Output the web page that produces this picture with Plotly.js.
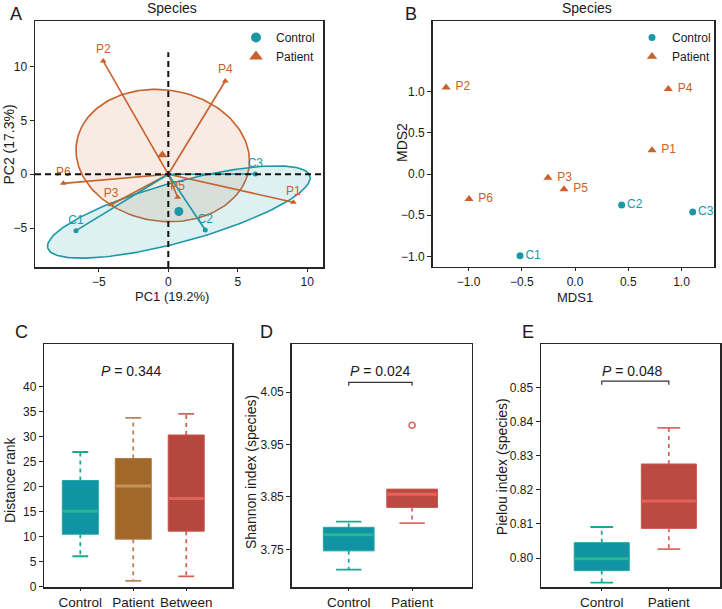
<!DOCTYPE html>
<html><head><meta charset="utf-8">
<script src="https://cdn.plot.ly/plotly-3.0.1.min.js"></script>
<style>body{margin:0;background:#fff}#chart{width:722px;height:609px}</style>
</head><body><div id="chart"></div>
<script>
// ---------- Panel A: PCA (species) ----------
const pcaControlLabels = ['C1', 'C2', 'C3'];
const pcaControlPC1 = [-6.64, 2.66, 6.26];
const pcaControlPC2 = [-5.23, -5.17, 0.03];
const pcaPatientLabels = ['P1', 'P2', 'P3', 'P4', 'P5', 'P6'];
const pcaPatientPC1 = [9.0, -4.68, -4.12, 4.1, 0.67, -7.55];
const pcaPatientPC2 = [-2.6, 10.5, -2.82, 8.65, -2.13, -0.84];
const spiderCenter = [0, 0];
// ellipse centre and shape matrix [sxx, sxy, syy]
const ellipseControlCenter = [0.76, -3.5];
const ellipseControlShape = [89.3, 29.96, 18.3];
const ellipsePatientCenter = [-0.4, 1.74];
const ellipsePatientShape = [38.9, -3.2, 37.7];

// ---------- Panel B: NMDS (species) ----------
const mdsControlLabels = ['C1', 'C2', 'C3'];
const mdsControlX = [-0.516, 0.438, 1.105];
const mdsControlY = [-0.99, -0.376, -0.46];
const mdsPatientLabels = ['P1', 'P2', 'P3', 'P4', 'P5', 'P6'];
const mdsPatientX = [0.723, -1.21, -0.254, 0.876, -0.103, -0.995];
const mdsPatientY = [0.287, 1.05, -0.045, 1.03, -0.185, -0.303];

// ---------- Panel C: distance rank ----------
const distGroups = ['Control', 'Patient', 'Between'];
const distLow = [6.1, 1.2, 2.1];
const distQ1 = [10.5, 9.5, 11.1];
const distMed = [15.1, 20.1, 17.6];
const distQ3 = [21.2, 25.6, 30.3];
const distHigh = [26.9, 33.7, 34.5];
const distP = '0.344';

// ---------- Panel D: Shannon ----------
const alphaGroups = ['Control', 'Patient'];
const shanLow = [3.711, 3.800];
const shanQ1 = [3.747, 3.830];
const shanMed = [3.778, 3.855];
const shanQ3 = [3.792, 3.865];
const shanHigh = [3.803, 3.865];
const shanOutlierGroup = [1];
const shanOutlier = [3.987];
const shanP = '0.024';

// ---------- Panel E: Pielou ----------
const pielLow = [0.7928, 0.8026];
const pielQ1 = [0.7963, 0.8087];
const pielMed = [0.7998, 0.8167];
const pielQ3 = [0.8045, 0.8276];
const pielHigh = [0.8091, 0.8382];
const pielP = '0.048';

// ---------- styling ----------
const FONT = 'Liberation Sans, Arial, sans-serif';
const INK = '#1a1a1a';
const TEAL = '#1b98a6', ORANGE = '#c8612b';
const W = 722, H = 609;
const boxStyles = {
  Control: {fill: '#0e94a3', line: '#22a6a0', med: '#2ab894', whisk: '#1aa98f'},
  Patient: {fill: '#a2682a', line: '#b07a48', med: '#c6905f', whisk: '#b98356'},
  Between: {fill: '#b5473f', line: '#c4544b', med: '#e2635a', whisk: '#d65f58'},
  PatientAlpha: {fill: '#bb4a42', line: '#c9554c', med: '#e4645a', whisk: '#d86a63'}
};

function ellipse(center, shape, n) {
  const l11 = Math.sqrt(shape[0]), l21 = shape[1] / l11, l22 = Math.sqrt(shape[2] - l21 * l21);
  const xs = [], ys = [];
  for (let k = 0; k <= n; k++) {
    const t = 2 * Math.PI * k / n;
    xs.push(center[0] + l11 * Math.cos(t));
    ys.push(center[1] + l21 * Math.cos(t) + l22 * Math.sin(t));
  }
  return {xs, ys};
}
function spider(xs, ys) {
  const sx = [], sy = [];
  xs.forEach((x, i) => { sx.push(spiderCenter[0], x, null); sy.push(spiderCenter[1], ys[i], null); });
  return {sx, sy};
}
const mean = a => a.reduce((s, v) => s + v, 0) / a.length;

const traces = [];
// A ellipses
const eC = ellipse(ellipseControlCenter, ellipseControlShape, 160);
const eP = ellipse(ellipsePatientCenter, ellipsePatientShape, 160);
traces.push({type: 'scatter', mode: 'lines', x: eP.xs, y: eP.ys, fill: 'toself', fillcolor: 'rgba(200,97,43,0.13)', line: {color: ORANGE, width: 1.6}, xaxis: 'x', yaxis: 'y', showlegend: false, hoverinfo: 'skip'});
traces.push({type: 'scatter', mode: 'lines', x: eC.xs, y: eC.ys, fill: 'toself', fillcolor: 'rgba(27,152,166,0.15)', line: {color: TEAL, width: 1.6}, xaxis: 'x', yaxis: 'y', showlegend: false, hoverinfo: 'skip'});
// A spider lines
const spP = spider(pcaPatientPC1, pcaPatientPC2), spC = spider(pcaControlPC1, pcaControlPC2);
traces.push({type: 'scatter', mode: 'lines', x: spP.sx, y: spP.sy, line: {color: ORANGE, width: 1.6}, xaxis: 'x', yaxis: 'y', showlegend: false, hoverinfo: 'skip'});
traces.push({type: 'scatter', mode: 'lines', x: spC.sx, y: spC.sy, line: {color: TEAL, width: 1.6}, xaxis: 'x', yaxis: 'y', showlegend: false, hoverinfo: 'skip'});
// A points
traces.push({type: 'scatter', mode: 'markers+text', x: pcaPatientPC1, y: pcaPatientPC2, text: pcaPatientLabels, textposition: 'top center', textfont: {family: FONT, size: 12, color: ORANGE}, marker: {symbol: 'triangle-up', size: 6, color: ORANGE}, cliponaxis: false, xaxis: 'x', yaxis: 'y', showlegend: false});
traces.push({type: 'scatter', mode: 'markers+text', x: pcaControlPC1, y: pcaControlPC2, text: pcaControlLabels, textposition: 'top center', textfont: {family: FONT, size: 12, color: TEAL}, marker: {symbol: 'circle', size: 5, color: TEAL}, cliponaxis: false, xaxis: 'x', yaxis: 'y', showlegend: false});
// A centroids
traces.push({type: 'scatter', mode: 'markers', x: [mean(pcaPatientPC1)], y: [mean(pcaPatientPC2)], marker: {symbol: 'triangle-up', size: 9, color: ORANGE}, xaxis: 'x', yaxis: 'y', showlegend: false});
traces.push({type: 'scatter', mode: 'markers', x: [mean(pcaControlPC1)], y: [mean(pcaControlPC2)], marker: {symbol: 'circle', size: 9, color: TEAL}, xaxis: 'x', yaxis: 'y', showlegend: false});
// A legend entries
traces.push({type: 'scatter', mode: 'markers', x: [null], y: [null], name: 'Control', marker: {symbol: 'circle', size: 10, color: TEAL}, xaxis: 'x', yaxis: 'y', legend: 'legend'});
traces.push({type: 'scatter', mode: 'markers', x: [null], y: [null], name: 'Patient', marker: {symbol: 'triangle-up', size: 12, color: ORANGE}, xaxis: 'x', yaxis: 'y', legend: 'legend'});

// B points
traces.push({type: 'scatter', mode: 'markers+text', x: mdsPatientX, y: mdsPatientY, text: mdsPatientLabels.map(s => ' ' + s), textposition: 'middle right', textfont: {family: FONT, size: 12, color: ORANGE}, marker: {symbol: 'triangle-up', size: 8, color: ORANGE}, cliponaxis: false, xaxis: 'x2', yaxis: 'y2', showlegend: false});
traces.push({type: 'scatter', mode: 'markers+text', x: mdsControlX, y: mdsControlY, text: mdsControlLabels, textposition: 'middle right', textfont: {family: FONT, size: 12, color: TEAL}, marker: {symbol: 'circle', size: 7, color: TEAL}, cliponaxis: false, xaxis: 'x2', yaxis: 'y2', showlegend: false});
traces.push({type: 'scatter', mode: 'markers', x: [null], y: [null], name: 'Control', marker: {symbol: 'circle', size: 7, color: TEAL}, xaxis: 'x2', yaxis: 'y2', legend: 'legend2'});
traces.push({type: 'scatter', mode: 'markers', x: [null], y: [null], name: 'Patient', marker: {symbol: 'triangle-up', size: 9, color: ORANGE}, xaxis: 'x2', yaxis: 'y2', legend: 'legend2'});

// boxplots
function addBoxes(groups, styleKeys, low, q1, med, q3, high, ax, ay, bw, capw) {
  groups.forEach((g, i) => {
    const st = boxStyles[styleKeys[i]];
    traces.push({type: 'box', x: [i], q1: [q1[i]], median: [med[i]], q3: [q3[i]], lowerfence: [q1[i]], upperfence: [q3[i]], width: bw, whiskerwidth: 0, fillcolor: st.fill, line: {color: st.line, width: 1}, boxpoints: false, xaxis: ax, yaxis: ay, showlegend: false, hoverinfo: 'skip'});
    traces.push({type: 'scatter', mode: 'lines', x: [i - bw / 2 + 0.01, i + bw / 2 - 0.01], y: [med[i], med[i]], line: {color: st.med, width: 3}, xaxis: ax, yaxis: ay, showlegend: false, hoverinfo: 'skip'});
    const wx = [], wy = [], cx = [], cy = [];
    if (high[i] > q3[i]) { wx.push(i, i, null); wy.push(q3[i], high[i], null); cx.push(i - capw / 2, i + capw / 2, null); cy.push(high[i], high[i], null); }
    if (low[i] < q1[i]) { wx.push(i, i, null); wy.push(q1[i], low[i], null); cx.push(i - capw / 2, i + capw / 2, null); cy.push(low[i], low[i], null); }
    traces.push({type: 'scatter', mode: 'lines', x: wx, y: wy, line: {color: st.whisk, width: 1.8, dash: '4px,4px'}, xaxis: ax, yaxis: ay, showlegend: false, hoverinfo: 'skip'});
    traces.push({type: 'scatter', mode: 'lines', x: cx, y: cy, line: {color: st.whisk, width: 1.8}, xaxis: ax, yaxis: ay, showlegend: false, hoverinfo: 'skip'});
  });
}
addBoxes(distGroups, ['Control', 'Patient', 'Between'], distLow, distQ1, distMed, distQ3, distHigh, 'x3', 'y3', 0.68, 0.3);
addBoxes(alphaGroups, ['Control', 'PatientAlpha'], shanLow, shanQ1, shanMed, shanQ3, shanHigh, 'x4', 'y4', 0.8, 0.4);
traces.push({type: 'scatter', mode: 'markers', x: shanOutlierGroup, y: shanOutlier, marker: {symbol: 'circle-open', size: 6, color: '#d86a63', line: {width: 1.6}}, xaxis: 'x4', yaxis: 'y4', showlegend: false});
addBoxes(alphaGroups, ['Control', 'PatientAlpha'], pielLow, pielQ1, pielMed, pielQ3, pielHigh, 'x5', 'y5', 0.82, 0.34);

// ---------- layout ----------
const xd = (a, b) => [a / W, b / W];
const yd = (top, bottom) => [1 - bottom / H, 1 - top / H];
const baseAxis = {showline: true, mirror: true, linecolor: '#262626', linewidth: 1.5, ticks: 'outside', ticklen: 4, tickwidth: 1, tickcolor: '#262626', showgrid: false, zeroline: false, tickfont: {family: FONT, size: 12, color: INK}, fixedrange: true};
const ax = o => Object.assign({}, baseAxis, o);

const ann = [];
function txt(text, x, y, size, extra) {
  ann.push(Object.assign({text, x: x / W, y: 1 - y / H, xref: 'paper', yref: 'paper', showarrow: false, xanchor: 'center', yanchor: 'middle', font: {family: FONT, size, color: INK}}, extra || {}));
}
txt('A', 16, 14, 18); txt('B', 411, 14, 18);
txt('C', 21.7, 331.7, 18); txt('D', 266, 331.7, 18); txt('E', 528, 331.7, 18);
txt('Species', 172, 8, 14); txt('Species', 587, 8, 14);
txt('PC1 (19.2%)', 172, 296, 13);
txt('PC2 (17.3%)', 8.5, 145, 14, {textangle: -90});
txt('MDS1', 575, 297, 13);
txt('MDS2', 402, 143, 14, {textangle: -90});
txt('Distance rank', 10, 480, 14, {textangle: -90});
txt('Shannon index (species)', 251, 472, 14, {textangle: -90});
txt('Pielou index (species)', 501.5, 466.7, 14, {textangle: -90});
txt('<i>P</i> = ' + distP, 131.7, 371, 14);
txt('<i>P</i> = ' + shanP, 380, 371, 14);
txt('<i>P</i> = ' + pielP, 632, 371, 14);

const shapes = [
  {type: 'line', xref: 'x', yref: 'y domain', x0: 0, x1: 0, y0: 0, y1: 0.873, line: {color: '#111', width: 2, dash: '6px,4px'}, layer: 'above'},
  {type: 'line', xref: 'x domain', yref: 'y', x0: 0, x1: 1, y0: 0, y1: 0, line: {color: '#111', width: 2, dash: '6px,4px'}, layer: 'above'},
  {type: 'path', xref: 'x4', yref: 'y4', path: 'M0,4.0625 L0,4.069 L1,4.069 L1,4.0625', line: {color: '#333', width: 1.2}},
  {type: 'path', xref: 'x5', yref: 'y5', path: 'M0,0.8509 L0,0.8519 L1,0.8519 L1,0.8509', line: {color: '#333', width: 1.2}}
];

const bottomX = {ticklen: 2, tickfont: {family: FONT, size: 13.5, color: INK}};
const layout = {
  width: W, height: H, margin: {l: 0, r: 0, t: 0, b: 0},
  paper_bgcolor: '#fff', plot_bgcolor: 'rgba(0,0,0,0)',
  font: {family: FONT, color: INK},
  boxmode: 'overlay',
  xaxis: ax({domain: xd(35, 323), anchor: 'y', range: [-9.59, 11.13], tickvals: [-5, 0, 5, 10], ticklen: 3}),
  yaxis: ax({domain: yd(21, 267), anchor: 'x', range: [-8.6, 14.22], tickvals: [-5, 0, 5, 10]}),
  xaxis2: ax({domain: xd(432.7, 714), anchor: 'y2', range: [-1.336, 1.305], tickvals: [-1, -0.5, 0, 0.5, 1], tickformat: '.1f', ticklen: 3}),
  yaxis2: ax({domain: yd(21, 266.7), anchor: 'x2', range: [-1.124, 1.855], tickvals: [-1, -0.5, 0, 0.5, 1], tickformat: '.1f'}),
  xaxis3: ax(Object.assign({domain: xd(44.3, 232.3), anchor: 'y3', range: [-0.68, 2.87], tickvals: [0, 1, 2], ticktext: distGroups}, bottomX)),
  yaxis3: ax({domain: yd(344.3, 587.3), anchor: 'x3', range: [-0.1, 48.4], tickvals: [0, 5, 10, 15, 20, 25, 30, 35, 40]}),
  xaxis4: ax(Object.assign({domain: xd(291.7, 471.7), anchor: 'y4', range: [-0.9, 1.94], tickvals: [0, 1], ticktext: alphaGroups}, bottomX)),
  yaxis4: ax({domain: yd(344.3, 587.3), anchor: 'x4', range: [3.6774, 4.1417], tickvals: [3.75, 3.85, 3.95, 4.05], tickformat: '.2f'}),
  xaxis5: ax(Object.assign({domain: xd(541, 720), anchor: 'y5', range: [-0.905, 1.762], tickvals: [0, 1], ticktext: alphaGroups}, bottomX)),
  yaxis5: ax({domain: yd(344.3, 587.3), anchor: 'x5', range: [0.7914, 0.86274], tickvals: [0.80, 0.81, 0.82, 0.83, 0.84, 0.85], tickformat: '.2f'}),
  legend: {x: 236 / W, y: 1 - 23 / H, xanchor: 'left', yanchor: 'top', bgcolor: 'rgba(0,0,0,0)', font: {family: FONT, size: 12, color: INK}, tracegroupgap: 0},
  legend2: {x: 632 / W, y: 1 - 23 / H, xanchor: 'left', yanchor: 'top', bgcolor: 'rgba(0,0,0,0)', font: {family: FONT, size: 12, color: INK}, tracegroupgap: 0},
  annotations: ann,
  shapes: shapes
};

Plotly.newPlot('chart', traces, layout, {displayModeBar: false, staticPlot: true});
</script>
</body></html>
